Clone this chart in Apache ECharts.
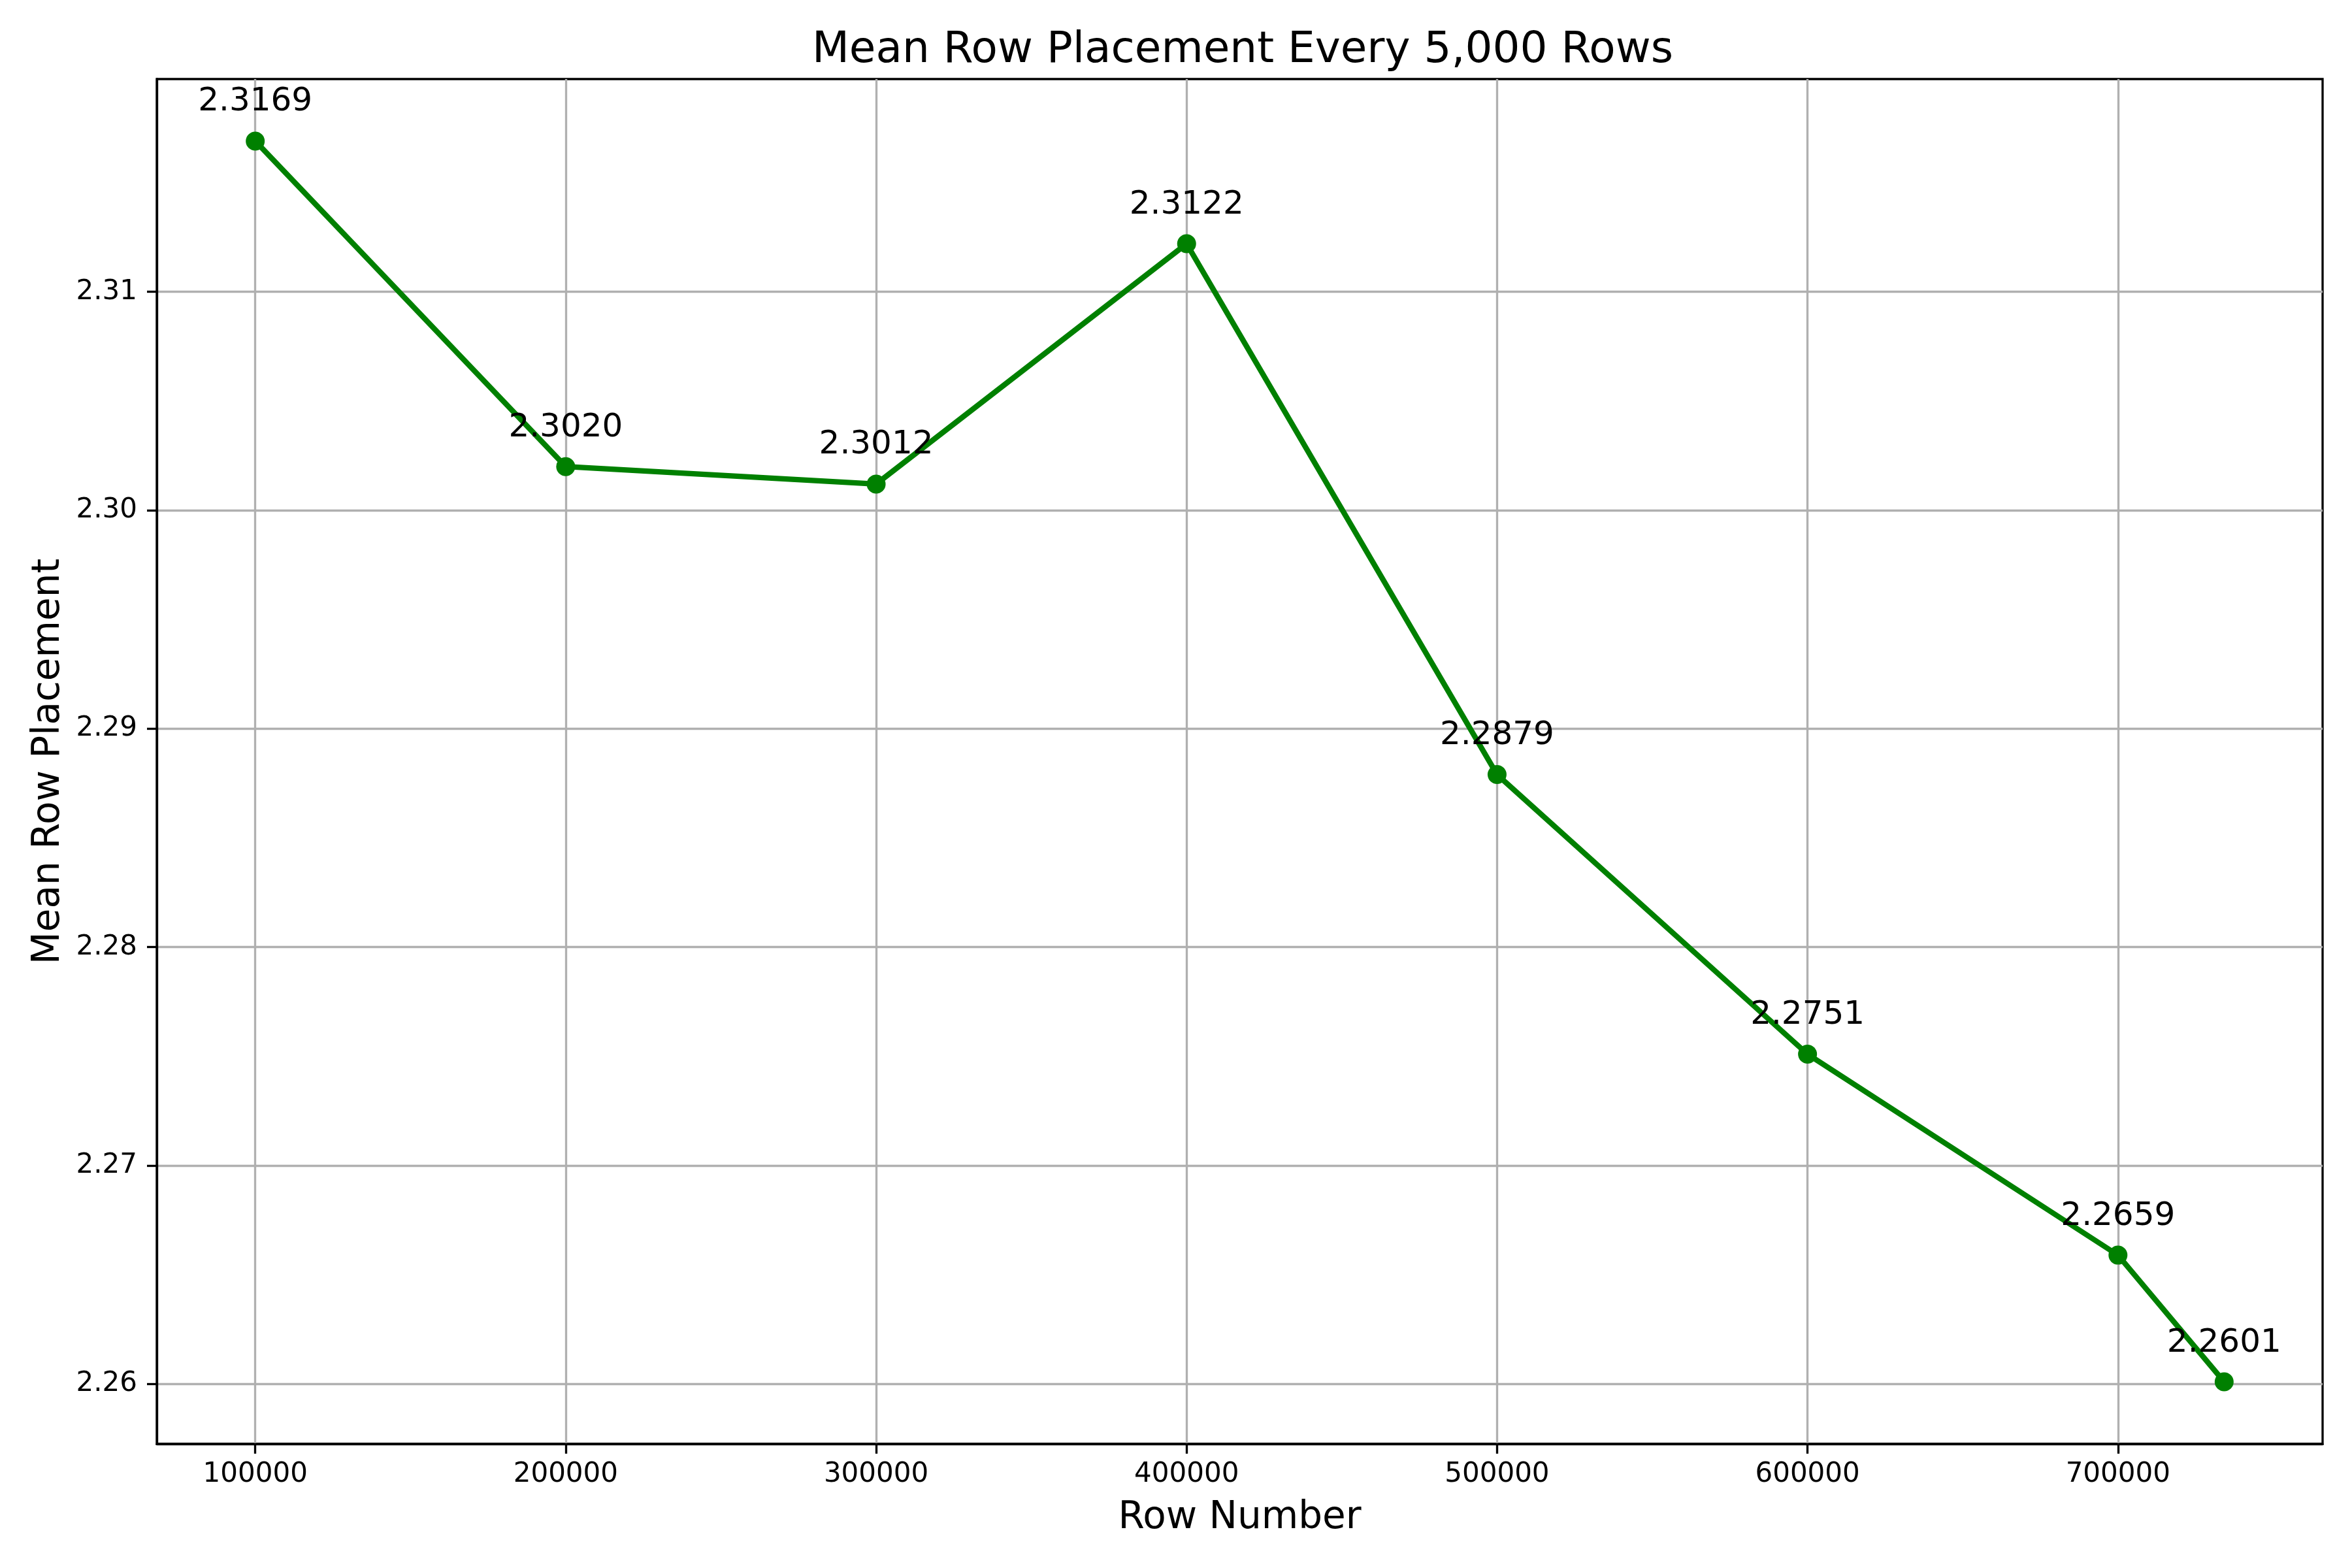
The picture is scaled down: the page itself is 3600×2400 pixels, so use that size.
<!DOCTYPE html>
<html>
<head>
    <meta charset="utf-8"/>
    <title>Mean Row Placement Every 5,000 Rows</title>
    <script src="https://cdn.jsdelivr.net/npm/echarts@6/dist/echarts.min.js"></script>
    <style>
        html, body { margin: 0; padding: 0; background: #fff; }
        #main { width: 3600px; height: 2400px; }
    </style>
</head>
<body>
<div id="main"></div>
<script>
    // data
    let rowNumbers = [100000, 200000, 300000, 400000, 500000, 600000, 700000, 734200];
    let meanPlacement = [2.3169, 2.3020, 2.3012, 2.3122, 2.2879, 2.2751, 2.2659, 2.2601];
    let xTicks = [100000, 200000, 300000, 400000, 500000, 600000, 700000];
    let yTicks = [2.26, 2.27, 2.28, 2.29, 2.30, 2.31];

    let points = [];
    for (let i = 0; i < rowNumbers.length; i++) {
        points.push([rowNumbers[i], meanPlacement[i]]);
    }

    // matplotlib style 5% margins around the data
    let xPad = (rowNumbers[rowNumbers.length - 1] - rowNumbers[0]) * 0.05;
    let yMaxV = Math.max.apply(null, meanPlacement);
    let yMinV = Math.min.apply(null, meanPlacement);
    let yPad = (yMaxV - yMinV) * 0.05;

    let font = 'DejaVu Sans';
    let lw = 3.33;

    let myChart = echarts.init(document.getElementById('main'), null, {renderer: 'canvas'});
    let option = {
        animation: false,
        backgroundColor: '#ffffff',
        title: {
            text: 'Mean Row Placement Every 5,000 Rows',
            left: 1897,
            textAlign: 'center',
            top: 40,
            textStyle: {fontFamily: font, fontSize: 66, fontWeight: 'normal', color: '#000'}
        },
        grid: {
            left: 240, right: 45, top: 121, bottom: 190,
            show: true, borderColor: '#000', borderWidth: lw,
            containLabel: false
        },
        xAxis: {
            type: 'value',
            min: rowNumbers[0] - xPad,
            max: rowNumbers[rowNumbers.length - 1] + xPad,
            name: 'Row Number',
            nameLocation: 'middle',
            nameGap: 85,
            nameTextStyle: {fontFamily: font, fontSize: 58, color: '#000'},
            axisLine: {show: true, onZero: false, lineStyle: {color: '#000', width: lw}},
            axisTick: {show: true, inside: false, length: 15, customValues: xTicks,
                lineStyle: {color: '#000', width: lw}},
            axisLabel: {show: true, margin: 26, customValues: xTicks,
                fontFamily: font, fontSize: 42, color: '#000',
                formatter: function (v) { return String(Math.round(v)); }},
            splitLine: {show: true, lineStyle: {color: '#b0b0b0', width: lw}}
        },
        yAxis: {
            type: 'value',
            min: yMinV - yPad,
            max: yMaxV + yPad,
            name: 'Mean Row Placement',
            nameLocation: 'middle',
            nameGap: 136,
            nameTextStyle: {fontFamily: font, fontSize: 58, color: '#000'},
            axisLine: {show: true, onZero: false, lineStyle: {color: '#000', width: lw}},
            axisTick: {show: true, inside: false, length: 15, customValues: yTicks,
                lineStyle: {color: '#000', width: lw}},
            axisLabel: {show: true, margin: 30, customValues: yTicks,
                fontFamily: font, fontSize: 42, color: '#000',
                formatter: function (v) { return v.toFixed(2); }},
            splitLine: {show: true, lineStyle: {color: '#b0b0b0', width: lw}}
        },
        series: [
            {
                name: 'Mean Row Placement',
                type: 'line',
                data: points,
                symbol: 'circle',
                symbolSize: 29,
                showAllSymbol: true,
                itemStyle: {color: '#008000'},
                lineStyle: {color: '#008000', width: 8.33},
                label: {
                    show: true,
                    position: 'top',
                    distance: 20,
                    fontFamily: font,
                    fontSize: 50,
                    color: '#000',
                    formatter: function (p) { return p.value[1].toFixed(4); }
                },
                z: 3
            }
        ]
    };
    myChart.setOption(option);
</script>
</body>
</html>
